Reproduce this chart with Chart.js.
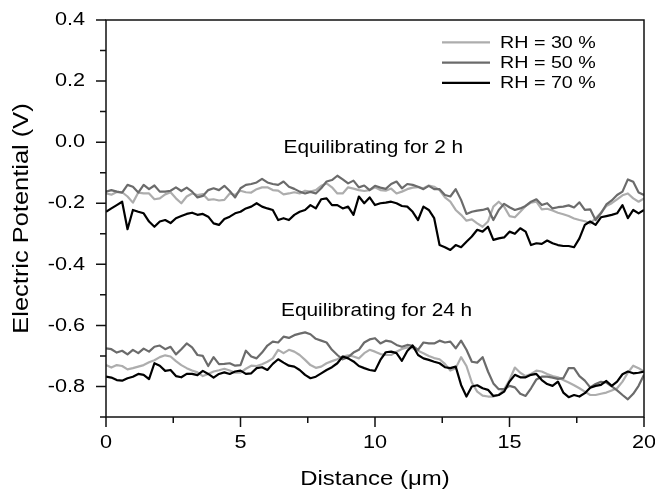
<!DOCTYPE html>
<html>
<head>
<meta charset="utf-8">
<script src="https://cdn.jsdelivr.net/npm/chart.js@4/dist/chart.umd.min.js"></script>
<style>
  html, body { margin: 0; padding: 0; background: #fff; }
  canvas { display: block; }
</style>
</head>
<body>
<canvas id="chart" width="655" height="489" style="width:655px;height:489px"></canvas>
<script>
// Scan position along the surface (µm)
const distance = [
  0, 0.2, 0.4, 0.6, 0.8, 1.0, 1.2, 1.4, 1.6, 1.8,
  2.0, 2.2, 2.4, 2.6, 2.8, 3.0, 3.2, 3.4, 3.6, 3.8,
  4.0, 4.2, 4.4, 4.6, 4.8, 5.0, 5.2, 5.4, 5.6, 5.8,
  6.0, 6.2, 6.4, 6.6, 6.8, 7.0, 7.2, 7.4, 7.6, 7.8,
  8.0, 8.2, 8.4, 8.6, 8.8, 9.0, 9.2, 9.4, 9.6, 9.8,
  10.0, 10.2, 10.4, 10.6, 10.8, 11.0, 11.2, 11.4, 11.6, 11.8,
  12.0, 12.2, 12.4, 12.6, 12.8, 13.0, 13.2, 13.4, 13.6, 13.8,
  14.0, 14.2, 14.4, 14.6, 14.8, 15.0, 15.2, 15.4, 15.6, 15.8,
  16.0, 16.2, 16.4, 16.6, 16.8, 17.0, 17.2, 17.4, 17.6, 17.8,
  18.0, 18.2, 18.4, 18.6, 18.8, 19.0, 19.2, 19.4, 19.6, 19.8,
  20.0
];

// Surface potential (V) after equilibrating for 2 h
const rh30At2h = [
  -0.168, -0.172, -0.163, -0.164, -0.178, -0.198, -0.165, -0.168, -0.168, -0.187,
  -0.184, -0.171, -0.164, -0.184, -0.200, -0.178, -0.168, -0.173, -0.170, -0.189,
  -0.187, -0.191, -0.189, -0.168, -0.173, -0.159, -0.164, -0.165, -0.154, -0.148,
  -0.148, -0.157, -0.159, -0.171, -0.168, -0.164, -0.168, -0.159, -0.162, -0.157,
  -0.143, -0.135, -0.148, -0.168, -0.168, -0.148, -0.152, -0.157, -0.160, -0.157,
  -0.148, -0.157, -0.159, -0.152, -0.168, -0.162, -0.154, -0.149, -0.147, -0.151,
  -0.142, -0.146, -0.157, -0.181, -0.195, -0.222, -0.238, -0.257, -0.253, -0.266,
  -0.277, -0.260, -0.211, -0.195, -0.211, -0.242, -0.246, -0.228, -0.209, -0.198,
  -0.195, -0.220, -0.218, -0.224, -0.231, -0.236, -0.242, -0.250, -0.255, -0.259,
  -0.266, -0.249, -0.231, -0.209, -0.200, -0.187, -0.174, -0.168, -0.184, -0.195,
  -0.184
];
const rh50At2h = [
  -0.162, -0.157, -0.162, -0.165, -0.140, -0.146, -0.165, -0.140, -0.154, -0.142,
  -0.162, -0.162, -0.159, -0.148, -0.160, -0.149, -0.162, -0.181, -0.176, -0.157,
  -0.151, -0.157, -0.143, -0.160, -0.181, -0.151, -0.140, -0.137, -0.132, -0.120,
  -0.132, -0.137, -0.140, -0.129, -0.146, -0.153, -0.162, -0.168, -0.163, -0.168,
  -0.151, -0.129, -0.124, -0.110, -0.122, -0.135, -0.126, -0.148, -0.142, -0.157,
  -0.143, -0.149, -0.153, -0.137, -0.129, -0.151, -0.137, -0.140, -0.146, -0.154,
  -0.143, -0.154, -0.154, -0.173, -0.178, -0.154, -0.189, -0.235, -0.228, -0.224,
  -0.222, -0.217, -0.255, -0.222, -0.202, -0.213, -0.222, -0.217, -0.209, -0.195,
  -0.187, -0.206, -0.200, -0.217, -0.213, -0.211, -0.207, -0.214, -0.197, -0.222,
  -0.220, -0.255, -0.233, -0.204, -0.191, -0.173, -0.162, -0.122, -0.130, -0.165,
  -0.173
];
const rh70At2h = [
  -0.228, -0.217, -0.206, -0.195, -0.285, -0.222, -0.228, -0.233, -0.260, -0.277,
  -0.260, -0.255, -0.265, -0.249, -0.242, -0.235, -0.231, -0.238, -0.235, -0.244,
  -0.266, -0.271, -0.252, -0.244, -0.233, -0.228, -0.217, -0.211, -0.200, -0.211,
  -0.217, -0.222, -0.255, -0.249, -0.255, -0.238, -0.228, -0.222, -0.206, -0.217,
  -0.187, -0.184, -0.206, -0.206, -0.217, -0.211, -0.238, -0.178, -0.200, -0.181,
  -0.206, -0.200, -0.198, -0.195, -0.200, -0.209, -0.211, -0.228, -0.255, -0.211,
  -0.222, -0.249, -0.337, -0.344, -0.353, -0.337, -0.344, -0.326, -0.309, -0.287,
  -0.293, -0.277, -0.320, -0.315, -0.312, -0.293, -0.300, -0.282, -0.293, -0.337,
  -0.331, -0.333, -0.322, -0.331, -0.337, -0.340, -0.340, -0.344, -0.315, -0.271,
  -0.260, -0.271, -0.246, -0.242, -0.238, -0.233, -0.206, -0.249, -0.222, -0.233,
  -0.222
];

// Surface potential (V) after equilibrating for 24 h
const rh30At24h = [
  -0.730, -0.738, -0.730, -0.733, -0.744, -0.740, -0.735, -0.730, -0.721, -0.714,
  -0.704, -0.698, -0.702, -0.717, -0.730, -0.740, -0.748, -0.754, -0.766, -0.759,
  -0.751, -0.747, -0.742, -0.748, -0.755, -0.755, -0.742, -0.732, -0.733, -0.727,
  -0.719, -0.708, -0.680, -0.691, -0.680, -0.686, -0.697, -0.713, -0.730, -0.739,
  -0.735, -0.724, -0.717, -0.711, -0.702, -0.698, -0.702, -0.708, -0.691, -0.680,
  -0.686, -0.694, -0.697, -0.697, -0.686, -0.677, -0.672, -0.675, -0.683, -0.691,
  -0.700, -0.707, -0.711, -0.726, -0.748, -0.740, -0.704, -0.733, -0.787, -0.817,
  -0.830, -0.833, -0.833, -0.828, -0.809, -0.779, -0.738, -0.755, -0.766, -0.759,
  -0.748, -0.751, -0.759, -0.766, -0.770, -0.779, -0.787, -0.796, -0.806, -0.817,
  -0.828, -0.828, -0.824, -0.820, -0.813, -0.806, -0.784, -0.755, -0.732, -0.740,
  -0.751
];
const rh50At24h = [
  -0.675, -0.678, -0.689, -0.683, -0.695, -0.680, -0.691, -0.676, -0.686, -0.670,
  -0.666, -0.678, -0.670, -0.695, -0.678, -0.659, -0.672, -0.697, -0.700, -0.733,
  -0.704, -0.727, -0.726, -0.724, -0.732, -0.730, -0.683, -0.702, -0.708, -0.689,
  -0.666, -0.653, -0.656, -0.637, -0.641, -0.632, -0.627, -0.623, -0.629, -0.644,
  -0.650, -0.656, -0.680, -0.697, -0.711, -0.704, -0.689, -0.680, -0.656, -0.646,
  -0.642, -0.659, -0.650, -0.653, -0.664, -0.670, -0.664, -0.667, -0.680, -0.656,
  -0.659, -0.659, -0.650, -0.656, -0.653, -0.675, -0.650, -0.680, -0.719, -0.722,
  -0.704, -0.751, -0.790, -0.809, -0.809, -0.798, -0.803, -0.824, -0.831, -0.806,
  -0.777, -0.768, -0.768, -0.771, -0.775, -0.773, -0.740, -0.740, -0.766, -0.781,
  -0.803, -0.792, -0.785, -0.787, -0.800, -0.813, -0.828, -0.842, -0.824, -0.798,
  -0.762
];
const rh70At24h = [
  -0.768, -0.771, -0.779, -0.781, -0.773, -0.768, -0.759, -0.762, -0.776, -0.724,
  -0.732, -0.749, -0.746, -0.766, -0.770, -0.759, -0.759, -0.763, -0.749, -0.759,
  -0.771, -0.759, -0.754, -0.759, -0.751, -0.748, -0.759, -0.757, -0.740, -0.737,
  -0.746, -0.726, -0.711, -0.722, -0.732, -0.735, -0.746, -0.762, -0.773, -0.768,
  -0.757, -0.746, -0.737, -0.724, -0.702, -0.708, -0.718, -0.733, -0.740, -0.746,
  -0.749, -0.713, -0.688, -0.686, -0.691, -0.716, -0.684, -0.666, -0.697, -0.708,
  -0.713, -0.719, -0.724, -0.737, -0.740, -0.735, -0.795, -0.833, -0.800, -0.796,
  -0.806, -0.811, -0.831, -0.828, -0.817, -0.784, -0.762, -0.770, -0.770, -0.762,
  -0.759, -0.779, -0.792, -0.798, -0.784, -0.820, -0.835, -0.828, -0.833, -0.822,
  -0.804, -0.798, -0.795, -0.782, -0.798, -0.784, -0.760, -0.751, -0.757, -0.755,
  -0.751
];

const seriesLabels = ['RH = 30 %', 'RH = 50 %', 'RH = 70 %'];
const panelNotes = ['Equilibrating for 2 h', 'Equilibrating for 24 h'];

const xMajorTicks = [0, 5, 10, 15, 20];
const xMinorTicks = [2.5, 7.5, 12.5, 17.5];
const yMajorTicks = [-0.8, -0.6, -0.4, -0.2, 0.0, 0.2, 0.4];
const yMinorTicks = [-0.9, -0.7, -0.5, -0.3, -0.1, 0.1, 0.3];

const seriesColors = ['#adadad', '#6b6b6b', '#000000'];
const FONT = '"Liberation Sans", Arial, sans-serif';

const canvas = document.getElementById('chart');
const ctx = canvas.getContext('2d');

// The lettering in this figure is set wide: stretch each glyph run along its writing direction.
const TEXT_STRETCH = 1.14;
const nativeFillText = CanvasRenderingContext2D.prototype.fillText;
ctx.fillText = function (text, x, y) {
  this.save();
  this.translate(x, y);
  this.scale(TEXT_STRETCH, 1);
  nativeFillText.call(this, text, 0, 0);
  this.restore();
};

const toPoints = ys => ys.map((y, i) => ({ x: distance[i], y }));

const datasets = [];
[[rh30At2h, rh50At2h, rh70At2h], [rh30At24h, rh50At24h, rh70At24h]].forEach(group => {
  group.forEach((ys, k) => {
    datasets.push({
      label: seriesLabels[k],
      data: toPoints(ys),
      borderColor: seriesColors[k],
      backgroundColor: seriesColors[k],
      borderWidth: 2.2,
      borderJoinStyle: 'round',
      pointRadius: 0,
      tension: 0,
      fill: false,
      order: 2 - k
    });
  });
});

// Box frame, outward tick marks, in-plot legend and panel notes
const decorations = {
  id: 'decorations',
  afterDraw(chart) {
    const { ctx, chartArea: a, scales: { x, y } } = chart;
    ctx.save();
    ctx.strokeStyle = '#111';
    ctx.lineWidth = 1.5;
    ctx.strokeRect(a.left, a.top, a.right - a.left, a.bottom - a.top);

    ctx.beginPath();
    const yTick = (v, len) => {
      const p = y.getPixelForValue(v);
      ctx.moveTo(a.left, p);
      ctx.lineTo(a.left - len, p);
    };
    const xTick = (v, len) => {
      const p = x.getPixelForValue(v);
      ctx.moveTo(p, a.bottom);
      ctx.lineTo(p, a.bottom + len);
    };
    yMajorTicks.forEach(v => yTick(v, 10));
    yMinorTicks.forEach(v => yTick(v, 6));
    xMajorTicks.forEach(v => xTick(v, 10));
    xMinorTicks.forEach(v => xTick(v, 6));
    ctx.stroke();

    // legend
    ctx.font = '17.3px ' + FONT;
    ctx.textAlign = 'left';
    ctx.textBaseline = 'middle';
    ctx.fillStyle = '#000';
    seriesLabels.forEach((label, k) => {
      const cy = 42.3 + k * 20.3;
      ctx.strokeStyle = seriesColors[k];
      ctx.lineWidth = 2.2;
      ctx.beginPath();
      ctx.moveTo(442, cy);
      ctx.lineTo(490, cy);
      ctx.stroke();
      ctx.fillText(label, 500, cy + 0.5);
    });

    // panel notes, anchored in data coordinates
    ctx.font = '18.3px ' + FONT;
    ctx.textAlign = 'center';
    ctx.textBaseline = 'alphabetic';
    ctx.fillText(panelNotes[0], x.getPixelForValue(9.94), y.getPixelForValue(-0.037));
    ctx.fillText(panelNotes[1], x.getPixelForValue(10.06), y.getPixelForValue(-0.569));
    ctx.restore();
  }
};

new Chart(ctx, {
  type: 'line',
  data: { datasets },
  options: {
    responsive: false,
    animation: false,
    events: [],
    layout: { padding: { left: 0, top: 20, right: 11, bottom: 0 } },
    plugins: { legend: { display: false }, tooltip: { enabled: false } },
    scales: {
      x: {
        type: 'linear',
        min: 0,
        max: 20,
        afterBuildTicks: s => { s.ticks = xMajorTicks.map(v => ({ value: v })); },
        afterFit: s => { s.height = 72; s.paddingLeft = 0; s.paddingRight = 0; },
        grid: { display: false },
        border: { display: false },
        ticks: {
          autoSkip: false,
          maxRotation: 0,
          padding: 6,
          color: '#000',
          font: { family: FONT, size: 19 },
          callback: v => String(v)
        },
        title: {
          display: true,
          text: 'Distance (\u03bcm)',
          color: '#000',
          font: { family: FONT, size: 21, lineHeight: 0.9 },
          padding: { top: 0, bottom: 0 }
        }
      },
      y: {
        type: 'linear',
        min: -0.9,
        max: 0.4,
        afterBuildTicks: s => { s.ticks = yMajorTicks.map(v => ({ value: v })); },
        afterFit: s => { s.width = 106; s.paddingTop = 0; s.paddingBottom = 0; },
        grid: { display: false },
        border: { display: false },
        ticks: {
          autoSkip: false,
          padding: 13,
          color: '#000',
          font: { family: FONT, size: 19 },
          callback: v => v.toFixed(1)
        },
        title: {
          display: true,
          text: 'Electric Potential (V)',
          color: '#000',
          font: { family: FONT, size: 22.3 },
          padding: { top: 8, bottom: 0 }
        }
      }
    }
  },
  plugins: [decorations]
});
</script>
</body>
</html>
